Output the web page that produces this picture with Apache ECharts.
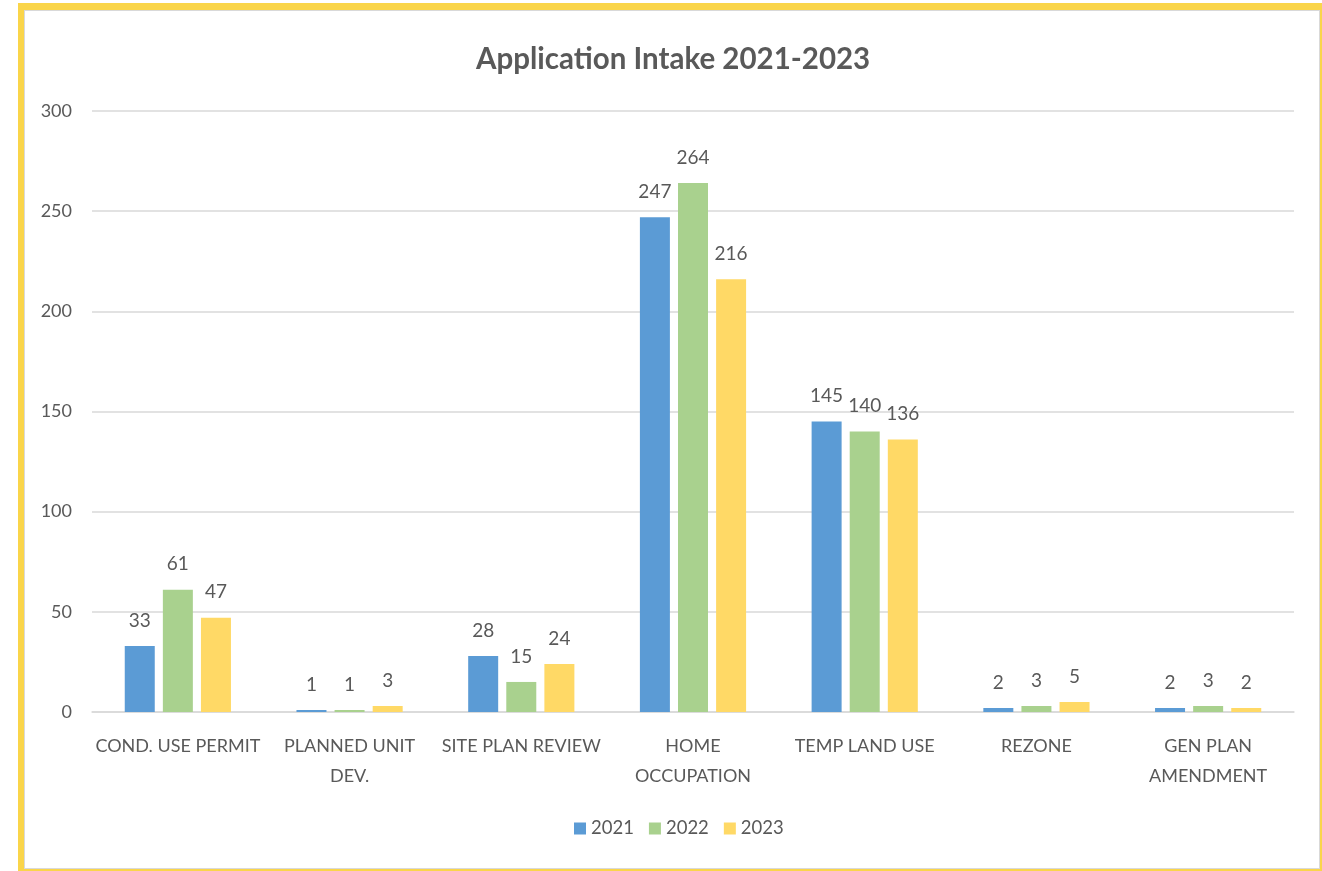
<!DOCTYPE html>
<html>
<head>
<meta charset="utf-8">
<script src="https://cdn.jsdelivr.net/npm/echarts@6/dist/echarts.min.js"></script>
<style>
  html, body { margin: 0; padding: 0; background: #ffffff; overflow: hidden; }
  #frame { position: absolute; left: 18px; top: 3px; width: 1304px; height: 868px; box-sizing: border-box;
    border-top: 7px solid #FAD54A; border-left: 6px solid #FAD54A;
    border-right: 2px solid #FAD54A; border-bottom: 2px solid #FAD54A; }
  #inner { position: absolute; left: 0; top: 0; right: 0; bottom: 0; border: 1px solid #D9D9D9; }
  #chart { position: absolute; left: 0; top: 0; width: 1322px; height: 871px; }
</style>
</head>
<body>
<div id="frame"><div id="inner"></div></div>
<div id="chart"></div>
<script>
const categories = ['COND. USE PERMIT', 'PLANNED UNIT\nDEV.', 'SITE PLAN REVIEW', 'HOME\nOCCUPATION', 'TEMP LAND USE', 'REZONE', 'GEN PLAN\nAMENDMENT'];
const values2021 = [33, 1, 28, 247, 145, 2, 2];
const values2022 = [61, 1, 15, 264, 140, 3, 3];
const values2023 = [47, 3, 24, 216, 136, 5, 2];
const seriesNames = ['2021', '2022', '2023'];
const yTicks = [0, 50, 100, 150, 200, 250, 300];

const colors = ['#5B9BD5', '#A9D18E', '#FFD966'];
const font = 'Lato, "Open Sans", sans-serif';
const txt = '#595959';

const chart = echarts.init(document.getElementById('chart'));
const mk = (name, data, i) => ({
  name, type: 'bar', data, barWidth: 30, barGap: '27%',
  itemStyle: { color: colors[i] },
  label: { show: true, position: 'top', distance: 16, color: txt, fontSize: 19, fontFamily: font }
});
chart.setOption({
  animation: false,
  title: {
    text: 'Application Intake 2021-2023', left: 471, top: 39,
    textStyle: { fontFamily: font, fontSize: 29.5, fontWeight: 'bold', color: txt }
  },
  legend: {
    data: seriesNames, bottom: 28, left: 569, itemWidth: 12, itemHeight: 12, itemGap: 15,
    icon: 'rect', textStyle: { color: txt, fontSize: 18.5, fontFamily: font }
  },
  grid: { left: 92, right: 28, top: 111, bottom: 159, containLabel: false },
  xAxis: {
    type: 'category', data: categories,
    axisLine: { lineStyle: { color: '#D9D9D9', width: 1.5 } },
    axisTick: { show: false },
    axisLabel: { color: txt, fontSize: 18, fontFamily: font, margin: 19, lineHeight: 30, interval: 0 }
  },
  yAxis: {
    type: 'value', min: yTicks[0], max: yTicks[yTicks.length - 1], interval: 50,
    axisLine: { show: false }, axisTick: { show: false },
    splitLine: { lineStyle: { color: '#D9D9D9', width: 1.5 } },
    axisLabel: { color: txt, fontSize: 18, fontFamily: font, margin: 20 }
  },
  series: [mk(seriesNames[0], values2021, 0), mk(seriesNames[1], values2022, 1), mk(seriesNames[2], values2023, 2)]
});
</script>
</body>
</html>
